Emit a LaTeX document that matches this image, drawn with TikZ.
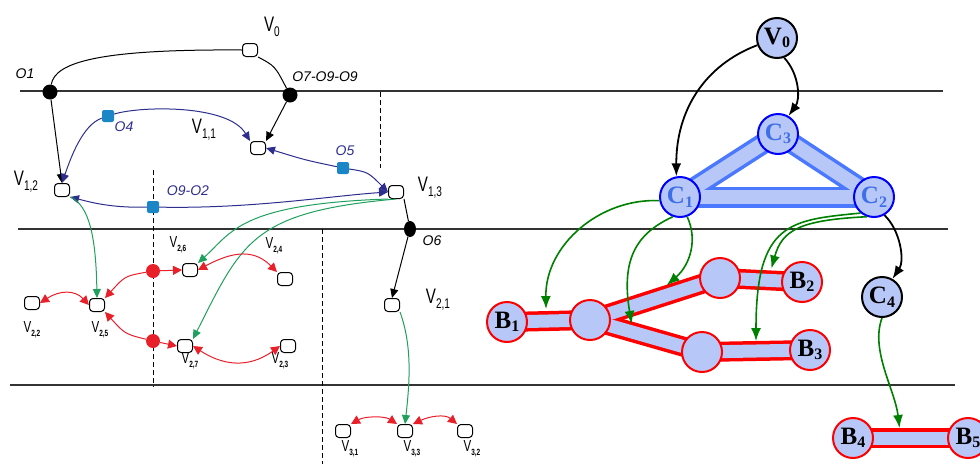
\documentclass[tikz,border=0pt]{standalone}
\usepackage{fontspec}
\setmainfont{Liberation Serif}
\newfontfamily\narrowsf[FakeStretch=0.72]{Liberation Sans}
\newfontfamily\opsf{Liberation Sans}
\usepackage{tikz}
\usetikzlibrary{positioning,arrows.meta,calc,shapes.geometric}
\definecolor{LaneGray}{HTML}{333333}
\definecolor{OpNavy}{HTML}{2E2E8F}
\definecolor{OpMark}{HTML}{1B86C6}
\definecolor{FlowGreen}{HTML}{1FA05C}
\definecolor{FlowRed}{HTML}{E8202A}
\definecolor{CompFill}{HTML}{B7C7F7}
\definecolor{CompBlue}{HTML}{0000FF}
\definecolor{CompBand}{HTML}{4A78FF}
\definecolor{CompText}{HTML}{3F6FE8}
\definecolor{BlockRed}{HTML}{FF0000}
\definecolor{BlockGreen}{HTML}{008000}
\newcommand{\vname}[2]{{\narrowsf\fontsize{21}{21}\selectfont #1\raisebox{-.45ex}{\fontsize{14}{14}\selectfont #2}}}
\newcommand{\vsmall}[2]{{\narrowsf\fontsize{16}{16}\selectfont #1\raisebox{-.5ex}{\fontsize{9}{9}\selectfont\bfseries #2}}}
\newcommand{\bname}[2]{{\bfseries\fontsize{25}{25}\selectfont #1\raisebox{-.3ex}{\fontsize{16}{16}\selectfont #2}}}
\pgfdeclarelayer{bg}
\pgfsetlayers{bg,main}
\tikzset{
  lane/.style={line width=1.1pt, draw=LaneGray},
  cut/.style={line width=.9pt, dashed, dash pattern=on 5pt off 3pt},
  task/.style={draw, line width=1pt, rounded corners=3.5pt, minimum width=15pt, minimum height=13pt, inner sep=0pt, fill=white},
  opdot/.style={circle, fill=black, minimum size=15pt, inner sep=0pt},
  reddot/.style={circle, fill=FlowRed, minimum size=14pt, inner sep=0pt},
  opmark/.style={rounded corners=2pt, fill=OpMark, minimum size=12pt, inner sep=0pt},
  oplab/.style={font=\opsf\itshape\fontsize{14}{14}\selectfont, inner sep=0pt},
  edgeblk/.style={-{Triangle[length=9pt,width=8pt]}, line width=1pt},
  edgenavy/.style={-{Triangle[length=9pt,width=8pt]}, line width=1pt, draw=OpNavy, fill=none},
  edgegrn/.style={-{Triangle[length=9pt,width=8pt]}, line width=1pt, draw=FlowGreen},
  edgered/.style={{Triangle[length=9pt,width=9pt]}-{Triangle[length=9pt,width=9pt]}, line width=1pt, draw=FlowRed},
  edgeredone/.style={-{Triangle[length=9pt,width=9pt]}, line width=1pt, draw=FlowRed},
  cnode/.style={circle, draw=CompBlue, line width=2pt, fill=CompFill, minimum size=40pt, inner sep=0pt, text=CompText},
  bnode/.style={circle, draw=black, line width=2pt, fill=CompFill, minimum size=40pt, inner sep=0pt},
  rnode/.style={circle, draw=BlockRed, line width=2pt, fill=CompFill, minimum size=40pt, inner sep=0pt},
  blueband/.style={line width=21pt, draw=CompBand},
  bluefill/.style={line width=14pt, draw=CompFill},
  redband/.style={line width=20pt, draw=BlockRed},
  redfill/.style={line width=13pt, draw=CompFill},
  blkarr/.style={-{Latex[length=13pt,width=10pt]}, line width=1.8pt},
  grnarr/.style={-{Latex[length=13pt,width=10pt]}, line width=1.6pt, draw=BlockGreen}
}
\begin{document}
\begin{tikzpicture}[x=1pt,y=-1pt]
\useasboundingbox (0,0) rectangle (980,464);
% swim lanes
\draw[lane] (20,91) -- (943,91);
\draw[lane] (18,229) -- (948,229);
\draw[lane] (10,385) -- (955,385);
\draw[cut] (153,170) -- (153,387);
\draw[cut] (322,229) -- (322,464);
\draw[cut] (380,92) -- (380,168);

% left: tasks
\node[task] (v0) at (250,50) {};
\node[task] (v11) at (258,148) {};
\node[task] (v12) at (62,190) {};
\node[task] (v13) at (396,192) {};
\node[task] (v21) at (392,305) {};
\node[task] (v22) at (32,303) {};
\node[task] (v25) at (97,305) {};
\node[task] (v26) at (190,270) {};
\node[task] (v24) at (285,279) {};
\node[task] (v27) at (185,346) {};
\node[task] (v23) at (288,346) {};
\node[task] (v31) at (343,431) {};
\node[task] (v33) at (405,431) {};
\node[task] (v32) at (465,431) {};
\node at (272,27) {\vname{V}{0}};
\node at (204,130) {\vname{V}{1,1}};
\node at (26,182) {\vname{V}{1,2}};
\node at (430,188) {\vname{V}{1,3}};
\node at (438,300) {\vname{V}{2,1}};
\node at (32,330) {\vsmall{V}{2,2}};
\node at (100,330) {\vsmall{V}{2,5}};
\node at (178,245) {\vsmall{V}{2,6}};
\node at (274,246) {\vsmall{V}{2,4}};
\node at (190,361) {\vsmall{V}{2,7}};
\node at (280,361) {\vsmall{V}{2,3}};
\node at (350,449) {\vsmall{V}{3,1}};
\node at (412,449) {\vsmall{V}{3,3}};
\node at (472,449) {\vsmall{V}{3,2}};

% left: operators
\node[opdot] (o1) at (50,92) {};
\node[opdot] (o7) at (290,95) {};
\node[ellipse, fill=black, minimum width=12pt, minimum height=16pt, inner sep=0pt] (o6) at (410,229) {};
\node[opmark] (o4) at (108,116) {};
\node[opmark] (o5) at (343,168) {};
\node[opmark] (o92) at (153,207) {};
\node[reddot] (ro1) at (153,271) {};
\node[reddot] (ro2) at (153,341) {};
\node[oplab] at (25,74) {O1};
\node[oplab] at (325,77) {O7-O9-O9};
\node[oplab] at (432,241) {O6};
\node[oplab, text=OpNavy] at (124,127) {O4};
\node[oplab, text=OpNavy] at (345,151) {O5};
\node[oplab, text=OpNavy] at (188,191) {O9-O2};

% left: control flow
\draw[line width=1pt] (v0.west) .. controls (100,49) and (55,62) .. (o1);
\draw[line width=1pt] (v0.south east) .. controls (275,66) .. (o7);
\draw[edgeblk] (o1) -- (v12.north);
\draw[edgeblk] (o7) -- (v11.north east);
\draw[line width=1pt] (v13.south east) -- (o6);
\draw[edgeblk] (o6) -- (v21.north);
\draw[edgenavy] (o4) .. controls (140,106) and (228,104) .. (v11.north west);
\draw[edgenavy] (o4) .. controls (82,125) and (70,160) .. (v12.north);
\draw[edgenavy] (o5) .. controls (305,160) .. (v11.east);
\draw[edgenavy] (o5) .. controls (368,172) .. (v13.west);
\draw[edgenavy] (o92) .. controls (110,208) and (90,202) .. (v12.south east);
\draw[edgenavy] (o92) .. controls (250,209) and (330,196) .. (v13.west);

% left: data flow
\draw[edgegrn] (v12.south east) .. controls (90,205) and (96,240) .. (v25.north);
\draw[edgegrn] (v13.south west) .. controls (240,204) and (232,232) .. (v26.north east);
\draw[edgegrn] (v13.south) .. controls (252,212) and (242,242) .. (v27.north east);
\draw[edgegrn] (v21.south east) .. controls (412,345) and (410,380) .. (v33.north);
\draw[edgeredone] (ro1) -- (v26.west);
\draw[edgeredone] (ro1) .. controls (125,276) .. (v25.north east);
\draw[edgeredone] (ro2) .. controls (125,334) .. (v25.south east);
\draw[edgeredone] (ro2) -- (v27.west);
\draw[edgered] (v22.east) .. controls (60,290) and (75,290) .. (v25.west);
\draw[edgered] (v26.east) .. controls (235,250) and (255,250) .. (v24.north west);
\draw[edgered] (v27.east) .. controls (230,370) and (255,364) .. (v23.west);
\draw[edgered] (v31.north east) .. controls (365,416) and (385,416) .. (v33.north west);
\draw[edgered] (v33.north east) .. controls (430,416) and (445,414) .. (v32.north west);

% right: components
\node[bnode] (rv0) at (777,38) {\bname{V}{0}};
\node[cnode] (c3) at (778,134) {\bname{C}{3}};
\node[cnode] (c1) at (680,197) {\bname{C}{1}};
\node[cnode] (c2) at (874,197) {\bname{C}{2}};
\node[bnode] (c4) at (882,297) {\bname{C}{4}};
\node[rnode] (b1) at (507,322) {\bname{B}{1}};
\node[rnode] (j1) at (590,320) {};
\node[rnode] (j2) at (720,278) {};
\node[rnode] (b2) at (802,282) {\bname{B}{2}};
\node[rnode] (j3) at (702,352) {};
\node[rnode] (b3) at (810,350) {\bname{B}{3}};
\node[rnode] (b4) at (853,438) {\bname{B}{4}};
\node[rnode] (b5) at (968,438) {\bname{B}{5}};
\begin{pgfonlayer}{bg}
\foreach \a/\b in {c1/c3, c3/c2, c1/c2} \draw[blueband] (\a.center) -- (\b.center);
\foreach \a/\b in {c1/c3, c3/c2, c1/c2} \draw[bluefill] (\a.center) -- (\b.center);
\foreach \a/\b in {b1/j1, j1/j2, j2/b2, j1/j3, j3/b3, b4/b5} \draw[redband] (\a.center) -- (\b.center);
\foreach \a/\b in {b1/j1, j1/j2, j2/b2, j1/j3, j3/b3, b4/b5} \draw[redfill] (\a.center) -- (\b.center);
\end{pgfonlayer}
\path (b1) -- (j1) coordinate[pos=.44] (g1);
\path (j1) -- (j3) coordinate[pos=.3] (g2);
\path (j1) -- (j2) coordinate[pos=.63] (g3);
\path (j3) -- (b3) coordinate[pos=.5] (g4);
\path (j2) -- (b2) coordinate[pos=.76] (g5);
\path (b4) -- (b5) coordinate[pos=.35] (g6);

% right: mapping
\draw[blkarr] (rv0.200) .. controls (705,65) and (676,110) .. (c1.100);
\draw[blkarr] (rv0.290) .. controls (800,75) and (800,100) .. (c3.60);
\draw[blkarr] (c2.300) .. controls (900,230) and (905,260) .. (c4.60);
\draw[grnarr] (c1.190) .. controls (600,198) and (545,245) .. ([yshift=12pt]g1);
\draw[grnarr] (c1.250) .. controls (640,232) and (620,255) .. ([yshift=8pt]g2);
\draw[grnarr] (c1.290) .. controls (698,240) and (690,265) .. ([yshift=10pt]g3);
\draw[grnarr] (c2.230) .. controls (790,220) and (756,222) .. ([yshift=10pt]g4);
\draw[grnarr] (c2.250) .. controls (800,220) and (782,230) .. ([yshift=12pt]g5);
\draw[grnarr] (c4.south) .. controls (870,350) and (895,390) .. ([yshift=10pt]g6);
\end{tikzpicture}
\end{document}
